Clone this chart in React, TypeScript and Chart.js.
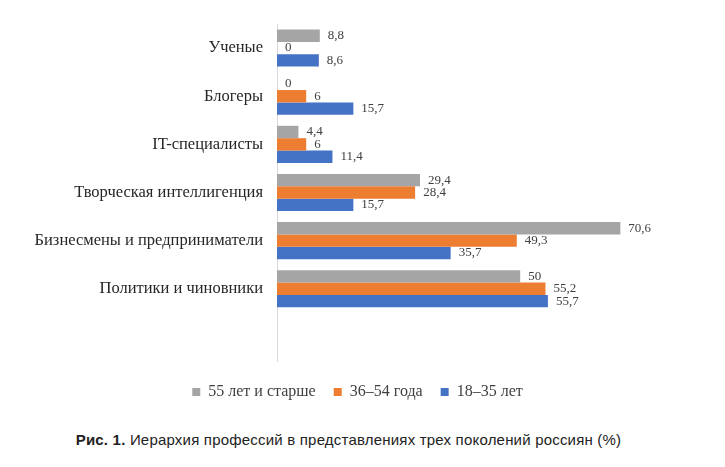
import React, { useEffect, useRef } from "react";
import { Chart, registerables } from "chart.js";

Chart.register(...registerables);

const categories = [
  "Ученые",
  "Блогеры",
  "IT-специалисты",
  "Творческая интеллигенция",
  "Бизнесмены и предприниматели",
  "Политики и чиновники",
  "",
];
const seriesNames = ["55 лет и старше", "36–54 года", "18–35 лет"];
const older = [8.8, 0, 4.4, 29.4, 70.6, 50, null];
const middle = [0, 6, 6, 28.4, 49.3, 55.2, null];
const young = [8.6, 15.7, 11.4, 15.7, 35.7, 55.7, null];
const colors = ["#a5a5a5", "#ed7d31", "#4472c4"];

const SERIF = "'Liberation Serif', 'Times New Roman', serif";
Chart.defaults.font.family = SERIF;

const valueLabels = {
  id: "valueLabels",
  afterDatasetsDraw(chart: any) {
    const ctx = chart.ctx;
    ctx.save();
    ctx.font = `13px ${SERIF}`;
    ctx.fillStyle = "#404040";
    ctx.textAlign = "left";
    ctx.textBaseline = "middle";
    chart.data.datasets.forEach((ds: any, di: number) => {
      const meta = chart.getDatasetMeta(di);
      meta.data.forEach((el: any, i: number) => {
        const v = ds.data[i];
        if (v === null || v === undefined) return;
        const txt = String(v).replace(".", ",");
        ctx.fillText(txt, el.x + 8, el.y);
      });
    });
    ctx.restore();
  },
};

export default function App() {
  const ref = useRef<HTMLCanvasElement>(null);
  useEffect(() => {
    if (!ref.current) return;
    const chart = new Chart(ref.current, {
      type: "bar",
      data: {
        labels: categories,
        datasets: [
          { label: seriesNames[0], data: older, backgroundColor: colors[0] },
          { label: seriesNames[1], data: middle, backgroundColor: colors[1] },
          { label: seriesNames[2], data: young, backgroundColor: colors[2] },
        ],
      },
      options: {
        indexAxis: "y",
        animation: false,
        responsive: true,
        maintainAspectRatio: false,
        datasets: { bar: { categoryPercentage: 0.77, barPercentage: 1 } },
        layout: { padding: { left: 10, right: 20, top: 24, bottom: 0 } },
        scales: {
          x: {
            display: true,
            min: 0,
            max: 88,
            grid: { display: false },
            border: { display: false },
            ticks: { display: false },
            afterFit(scale: any) {
              scale.height = 5;
            },
          },
          y: {
            grid: { display: false },
            border: { display: true, color: "#d9d9d9", width: 1 },
            ticks: {
              padding: 6,
              color: "#262626",
              font: { family: SERIF, size: 16.5 },
            },
            afterFit(scale: any) {
              scale.width = 267;
            },
          },
        },
        plugins: {
          legend: {
            position: "bottom",
            labels: {
              boxWidth: 8,
              boxHeight: 8,
              padding: 18,
              color: "#404040",
              font: { family: SERIF, size: 16 },
            },
          },
          tooltip: { enabled: false },
        },
      },
      plugins: [valueLabels],
    });
    return () => chart.destroy();
  }, []);
  return (
    <div style={{ position: "absolute", left: 0, top: 0, width: 725, height: 467, background: "#fff" }}>
      <div style={{ position: "absolute", left: 0, top: 0, width: 725, height: 410 }}>
        <canvas ref={ref} />
      </div>
      <div
        style={{
          position: "absolute",
          left: 0,
          top: 431,
          width: 697,
          textAlign: "center",
          fontFamily: "'Liberation Sans', Arial, sans-serif",
          fontSize: 15,
          letterSpacing: 0.2,
          color: "#222",
        }}
      >
        <b>Рис. 1.</b> Иерархия профессий в представлениях трех поколений россиян (%)
      </div>
    </div>
  );
}
